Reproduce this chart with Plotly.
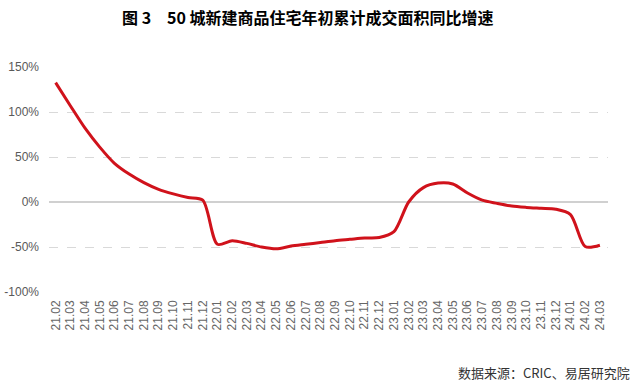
import plotly.graph_objects as go

months = ["21.02","21.03","21.04","21.05","21.06","21.07","21.08","21.09","21.10","21.11","21.12",
          "22.01","22.02","22.03","22.04","22.05","22.06","22.07","22.08","22.09","22.10","22.11","22.12",
          "23.01","23.02","23.03","23.04","23.05","23.06","23.07","23.08","23.09","23.10","23.11","23.12",
          "24.01","24.02","24.03"]
growth = [132.6, 107, 82, 61, 43, 31, 21.5, 14, 9, 5, 2,
          -47, -43, -46, -50, -52, -49, -47, -45, -43, -41.5, -40, -39.5,
          -33, 0, 16, 21, 20, 10, 2, -1.5, -4.5, -6, -7, -8,
          -14, -49.5, -48]
y_ticks = [-100, -50, 0, 50, 100, 150]
y_labels = ["-100%", "-50%", "0%", "50%", "100%", "150%"]

title_text = "图 3　50 城新建商品住宅年初累计成交面积同比增速"
source_text = "数据来源：CRIC、易居研究院"

fig = go.Figure()
fig.add_trace(go.Scatter(
    x=months, y=growth, mode="lines",
    line=dict(color="#d0121b", width=3, shape="spline", smoothing=0.8),
    hoverinfo="skip", showlegend=False,
))

fig.update_layout(
    width=642, height=386,
    margin=dict(l=49, r=34, t=67, b=94),
    paper_bgcolor="white", plot_bgcolor="white",
    showlegend=False,
    font=dict(family="Liberation Sans, Arial, sans-serif", color="#595959"),
    xaxis=dict(
        type="category", tickangle=-90,
        tickfont=dict(size=12, color="#666666"),
        showgrid=False, showline=False, zeroline=False, ticks="",
        range=[-0.45, 37.55], automargin=False, ticklabelstandoff=5,
    ),
    yaxis=dict(
        range=[-100, 150], tickvals=y_ticks, ticktext=y_labels,
        tickfont=dict(size=12, color="#595959"),
        showgrid=True, gridcolor="#d9d9d9", griddash="dash", gridwidth=1,
        zeroline=True, zerolinecolor="#d0d0d0", zerolinewidth=1.5,
        showline=False, ticks="", ticklabelstandoff=9, automargin=False,
    ),
    annotations=[
        dict(text="<b>" + title_text + "</b>", xref="paper", yref="paper",
             x=(308 - 49) / 559, y=1, yshift=50, xanchor="center", yanchor="middle",
             showarrow=False, font=dict(family="Noto Sans CJK SC", size=16, color="#000000")),
        dict(text=source_text, xref="paper", yref="paper",
             x=(632 - 49) / 559, y=0, yshift=-80, xanchor="right", yanchor="middle",
             showarrow=False, font=dict(family="Noto Sans CJK SC", size=13, color="#333333")),
    ],
)

fig.write_html(
    "out.html",
    config={"displayModeBar": False, "staticPlot": True},
    post_script="document.body.style.margin='0';document.body.style.padding='0';document.body.style.overflow='hidden';",
)
